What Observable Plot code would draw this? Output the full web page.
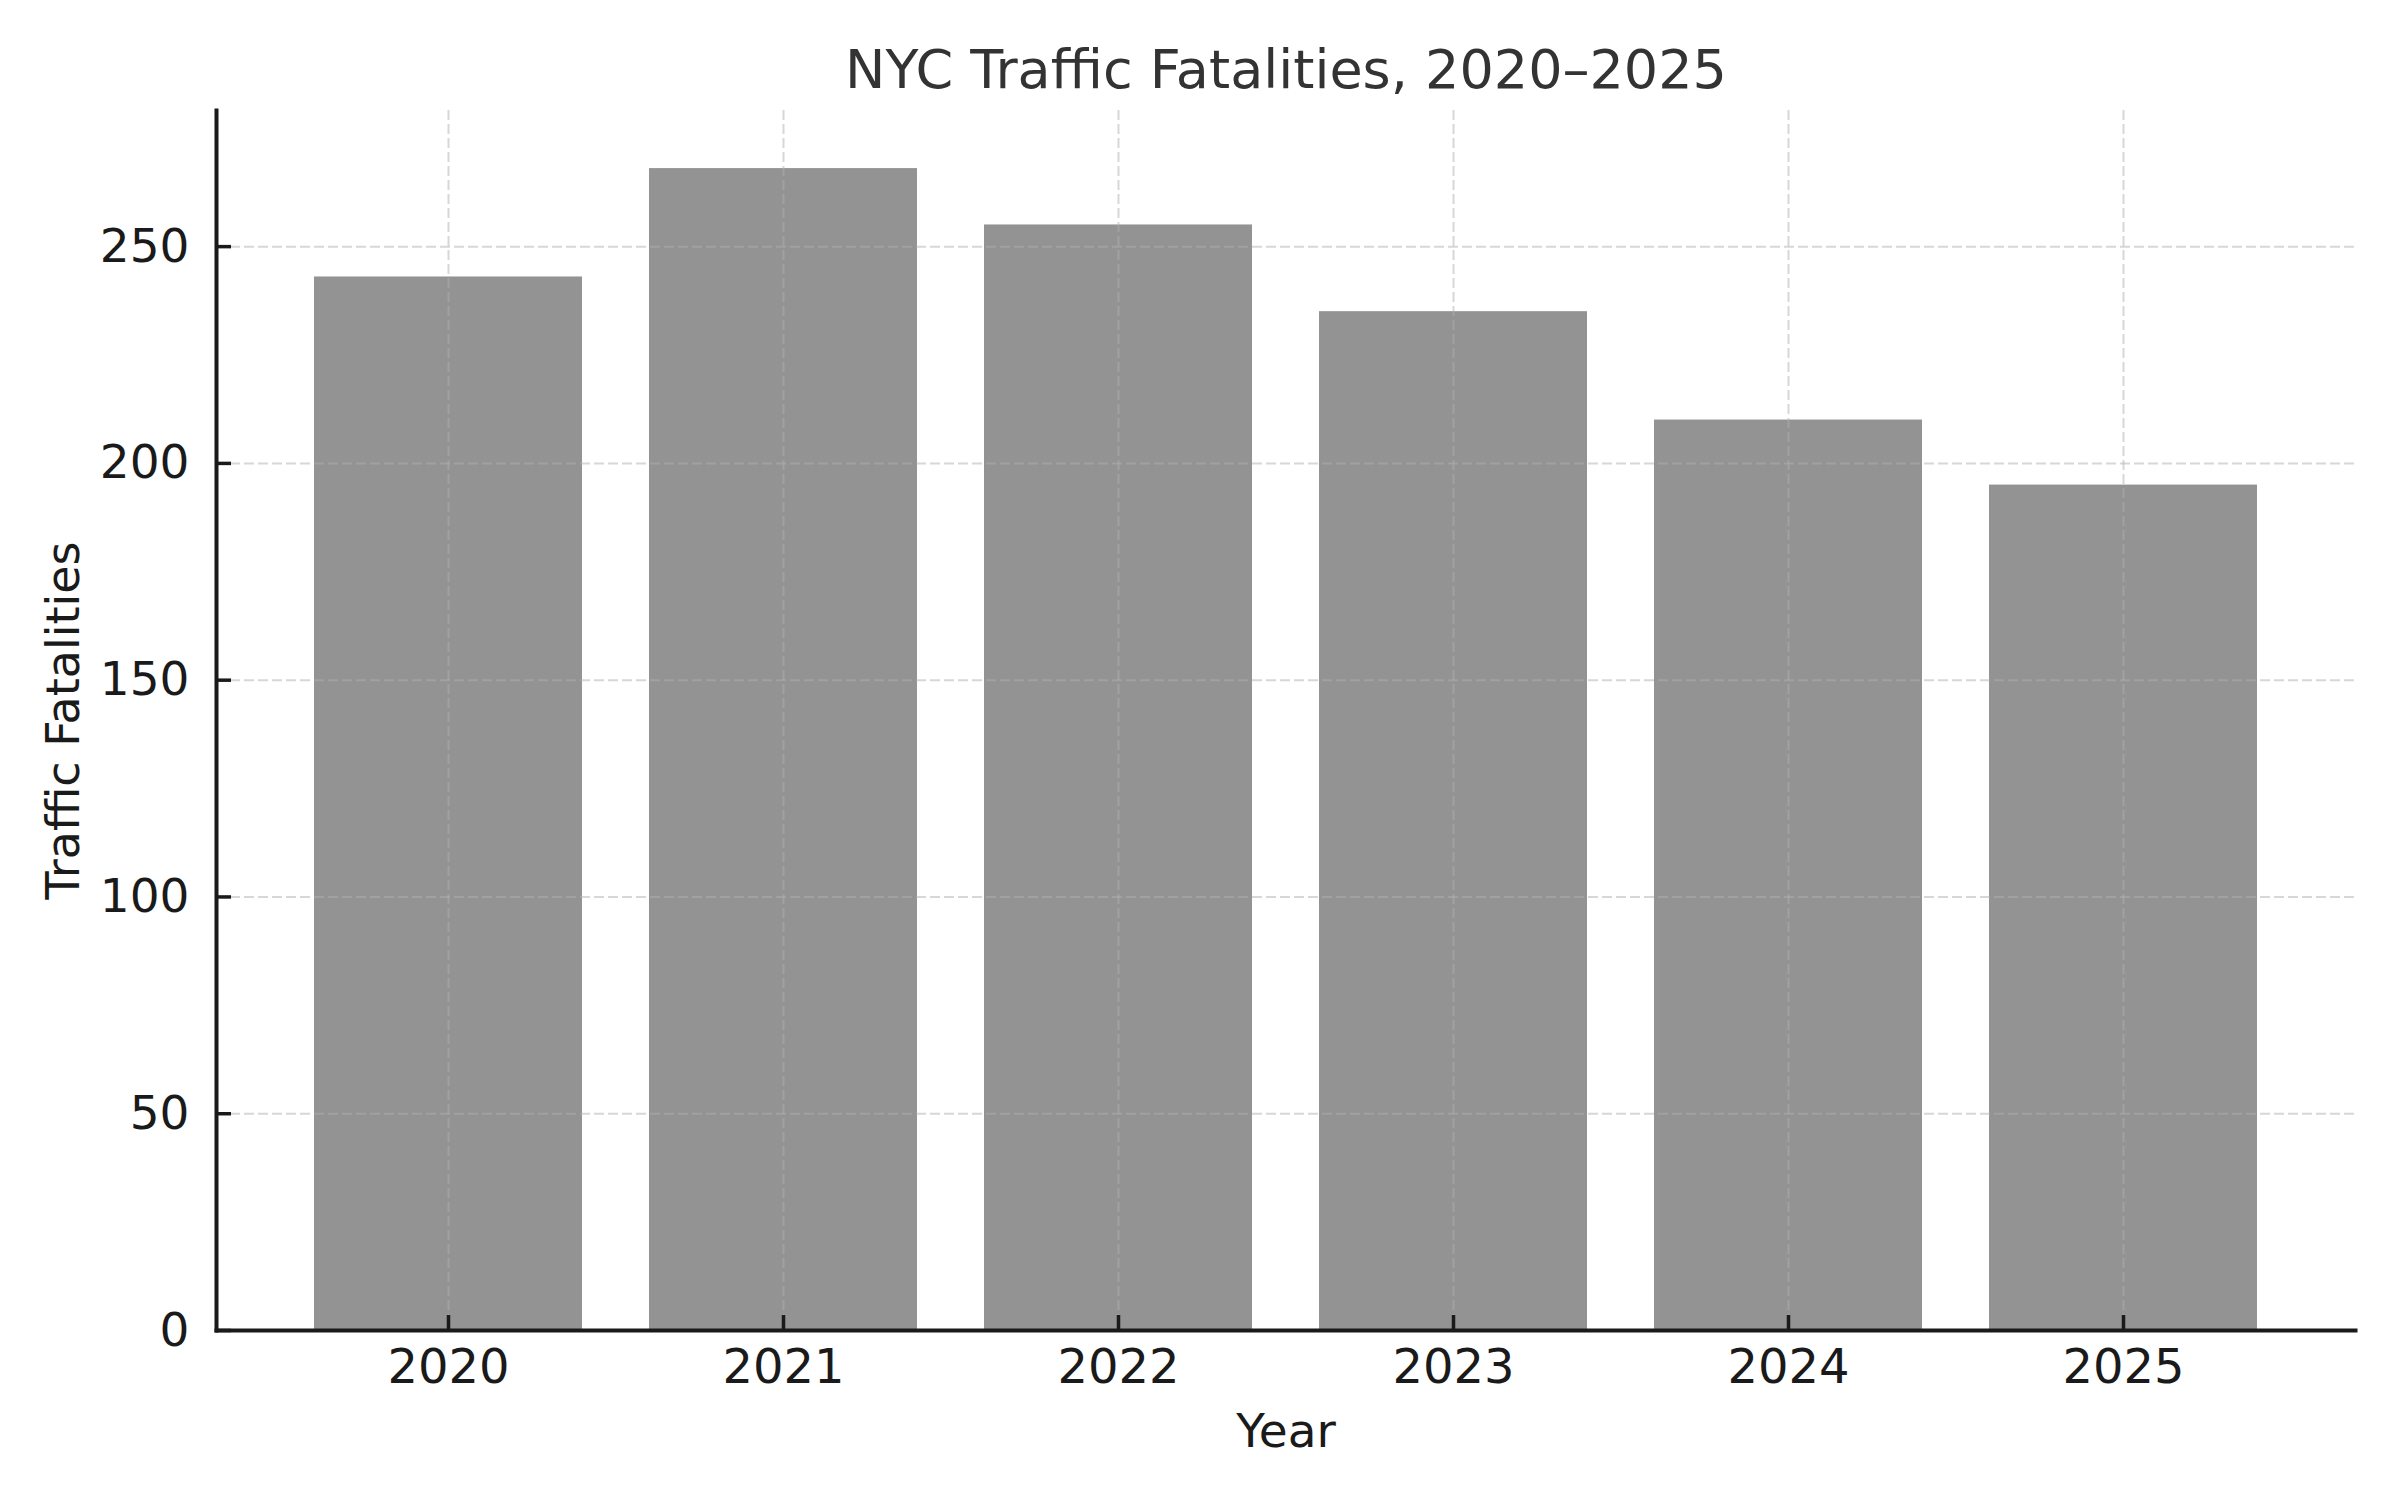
<!DOCTYPE html>
<html>
<head>
<meta charset="utf-8">
<script src="https://cdn.jsdelivr.net/npm/d3@7"></script>
<script src="https://cdn.jsdelivr.net/npm/@observablehq/plot@0.6"></script>
<style>
  html, body { margin: 0; padding: 0; background: #ffffff; }
  #chart svg { display: block; }
</style>
</head>
<body>
<div id="chart"></div>
<script>
// ---- data ----
const years = ["2020", "2021", "2022", "2023", "2024", "2025"];
const fatalities = [243, 268, 255, 235, 210, 195];
const yTicks = [0, 50, 100, 150, 200, 250];
const yDomain = [0, 281.4];
const titleText = ["NYC Traffic Fatalities, 2020\u20132025"];
const xLabel = ["Year"];
const yLabel = ["Traffic Fatalities"];

const table = years.map((year, i) => ({year, value: fatalities[i]}));

const W = 2400, H = 1500;
const mL = 216, mR = 45, mT = 110, mB = 170;
const plotW = W - mL - mR, plotH = H - mT - mB;
const tickLen = 15;
const ink = "#1a1a1a";
const font = "DejaVu Sans";

const gridStyle = {stroke: "#b0b0b0", strokeOpacity: 0.5, strokeWidth: 2, strokeDasharray: "10,4"};

const chart = Plot.plot({
  width: W,
  height: H,
  marginLeft: mL,
  marginRight: mR,
  marginTop: mT,
  marginBottom: mB,
  style: {fontFamily: font, fontSize: "48px", background: "#ffffff", color: ink},
  x: {type: "band", domain: years, paddingInner: 0.2, paddingOuter: 0.29, align: 0.5},
  y: {domain: yDomain},
  marks: [
    Plot.barY(table, {x: "year", y: "value", fill: "#939393"}),
    Plot.gridX(years, gridStyle),
    Plot.gridY(yTicks, gridStyle),
    Plot.tickY(yTicks, {y: d => d, insetRight: plotW - tickLen, stroke: ink, strokeWidth: 3.5}),
    Plot.tickX(years, {x: d => d, insetTop: plotH - tickLen, stroke: ink, strokeWidth: 3.5}),
    Plot.frame({anchor: "left", stroke: ink, strokeWidth: 4, strokeLinecap: "square"}),
    Plot.frame({anchor: "bottom", stroke: ink, strokeWidth: 4, strokeLinecap: "square"}),
    Plot.axisY(yTicks, {tickSize: 0, tickPadding: 27, label: null, fontSize: 47, fill: ink}),
    Plot.axisX({tickSize: 0, tickPadding: 18, label: null, fontSize: 48, fill: ink}),
    Plot.text(titleText, {frameAnchor: "top", dy: -23, lineAnchor: "bottom", fontSize: 54, fill: "#333333"}),
    Plot.text(xLabel, {frameAnchor: "bottom", dy: 116, lineAnchor: "bottom", fontSize: 47, fill: ink}),
    Plot.text(yLabel, {frameAnchor: "left", dx: -152, rotate: -90, lineAnchor: "middle", textAnchor: "middle", fontSize: 46, fill: ink})
  ]
});

document.getElementById("chart").appendChild(chart);
</script>
</body>
</html>
